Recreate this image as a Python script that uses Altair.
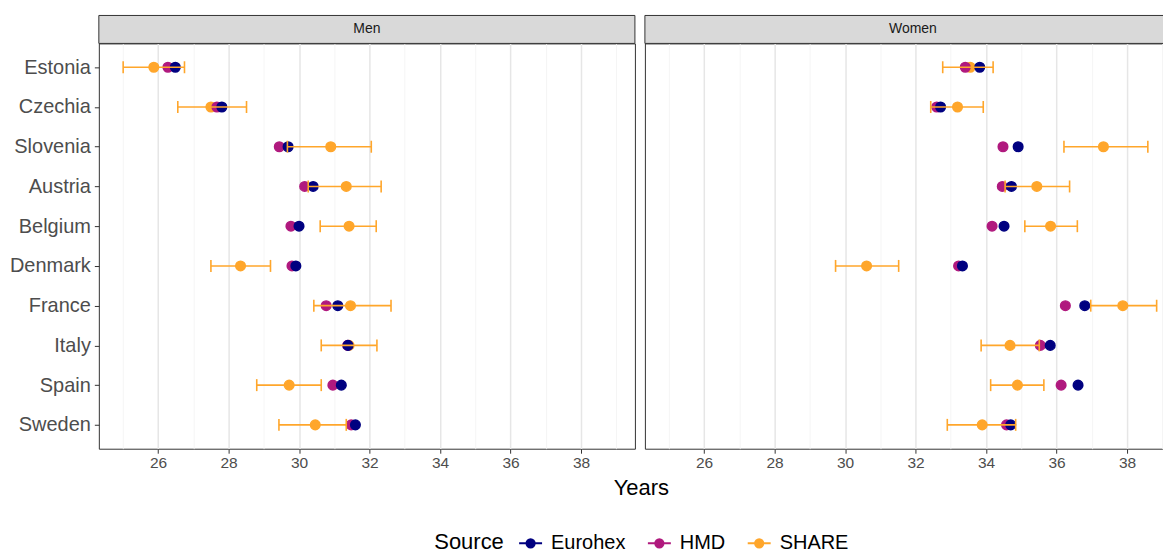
import altair as alt
import pandas as pd

countries = ["Estonia", "Czechia", "Slovenia", "Austria", "Belgium",
             "Denmark", "France", "Italy", "Spain", "Sweden"]
sources = ["Eurohex", "HMD", "SHARE"]
colors = ["#000080", "#B0197E", "#FFA62B"]

# Men
men_eurohex = [26.49, 27.81, 29.69, 30.40, 30.00, 29.91, 31.10, 31.39, 31.20, 31.60]
men_hmd = [26.28, 27.67, 29.44, 30.16, 29.77, 29.80, 30.77, 31.38, 30.96, 31.48]
men_share = [25.88, 27.50, 30.90, 31.34, 31.42, 28.34, 31.46, 31.42, 29.72, 30.46]
men_share_low = [25.01, 26.56, 29.67, 30.26, 30.60, 27.50, 30.42, 30.63, 28.80, 29.43]
men_share_high = [26.75, 28.51, 32.05, 32.33, 32.19, 29.19, 32.61, 32.21, 30.63, 31.34]

# Women
women_eurohex = [33.82, 32.71, 34.91, 34.72, 34.51, 33.33, 36.80, 35.82, 36.61, 34.70]
women_hmd = [33.41, 32.60, 34.48, 34.46, 34.17, 33.22, 36.25, 35.54, 36.13, 34.58]
women_share = [33.55, 33.19, 37.33, 35.44, 35.83, 30.61, 37.88, 34.68, 34.89, 33.89]
women_share_low = [32.77, 32.43, 36.21, 34.54, 35.10, 29.73, 36.97, 33.86, 34.13, 32.90]
women_share_high = [34.20, 33.92, 38.59, 36.37, 36.59, 31.52, 38.84, 35.51, 35.64, 34.84]

x_ticks = list(range(25, 40))

point_rows = []
err_rows = []
for sex, e, h, s, lo, hi in [
    ("Men", men_eurohex, men_hmd, men_share, men_share_low, men_share_high),
    ("Women", women_eurohex, women_hmd, women_share, women_share_low, women_share_high),
]:
    # draw order: SHARE at bottom, then HMD, then Eurohex on top
    for ordv, (src, vals) in enumerate([("SHARE", s), ("HMD", h), ("Eurohex", e)]):
        for c, v in zip(countries, vals):
            point_rows.append({"Sex": sex, "Country": c, "Source": src, "Years": v, "ord": ordv})
    for c, a, b in zip(countries, lo, hi):
        err_rows.append({"Sex": sex, "Country": c, "low": a, "high": b})

pts_df = pd.DataFrame(point_rows)
err_df = pd.DataFrame(err_rows)

W = 537
H = 406
STRIP_H = 28
share_color = colors[2]

legend_path = "M-1,0H1M0.36,0A0.36,0.36,0,1,1,-0.36,0A0.36,0.36,0,1,1,0.36,0Z"

legend = alt.Legend(
    title="Source", orient="none", legendX=336, legendY=488,
    direction="horizontal", columns=3, titleOrient="left",
    symbolType=legend_path, symbolSize=529, symbolStrokeWidth=2,
    labelFontSize=20, titleFontSize=22, titleFontWeight="normal",
    titleColor="black", labelColor="black", columnPadding=18,
    titlePadding=14, labelOffset=8,
)

minor = "datum.value % 2 === 1"


def x_axis(title):
    kw = dict(
        values=x_ticks,
        labelExpr="datum.value % 2 === 0 ? datum.label : ''",
        grid=True,
        gridColor=alt.condition(minor, alt.value("#F3F3F3"), alt.value("#E6E6E6")),
        gridWidth=alt.condition(minor, alt.value(0.8), alt.value(1.5)),
        tickOpacity=alt.condition(minor, alt.value(0), alt.value(1)),
        tickColor="#333333", tickSize=4.5, tickWidth=1,
        labelFontSize=15.5, labelColor="#4D4D4D", labelPadding=2,
        domain=False,
    )
    if title:
        kw.update(title=title, titleX=543, titleFontSize=22, titleFontWeight="normal",
                  titleColor="black", titlePadding=7)
    else:
        kw.update(title=None)
    return alt.Axis(**kw)


def panel(sex, left):
    xs = alt.Scale(domain=[24.32, 39.53], nice=False, zero=False)
    if left:
        yax = alt.Axis(title=None, labelFontSize=20, labelColor="#4D4D4D",
                       tickColor="#333333", tickSize=4.5, labelPadding=4, domain=False,
                       gridColor="#E6E6E6", gridWidth=1.5)
    else:
        yax = alt.Axis(title=None, labels=False, ticks=False, domain=False,
                       gridColor="#E6E6E6", gridWidth=1.5)
    y = alt.Y("Country:N", sort=countries, scale=alt.Scale(type="point", padding=0.6), axis=yax)
    xax = x_axis("Years" if left else None)
    cscale = alt.Scale(domain=sources, range=colors)

    head_df = pd.DataFrame({"Sex": [sex]})
    strip_bg = alt.Chart(head_df).mark_rect(
        fill="#D9D9D9", stroke="#333333", strokeWidth=1
    ).encode(
        x=alt.value(0), x2=alt.value(W), y=alt.value(-STRIP_H), y2=alt.value(0)
    )
    strip_txt = alt.Chart(head_df).mark_text(
        fontSize=14, color="#1A1A1A", baseline="middle", align="center"
    ).encode(
        text="Sex:N", x=alt.value(W / 2), y=alt.value(-STRIP_H / 2)
    )

    pts = alt.Chart(pts_df).transform_filter(alt.datum.Sex == sex).mark_point(
        filled=True, size=92, strokeWidth=1.5, opacity=1
    ).encode(
        x=alt.X("Years:Q", scale=xs, axis=xax),
        y=y,
        fill=alt.Fill("Source:N", scale=cscale, legend=legend),
        stroke=alt.Stroke("Source:N", scale=cscale, legend=legend),
        order=alt.Order("ord:Q"),
    )
    rules = alt.Chart(err_df).transform_filter(alt.datum.Sex == sex).mark_rule(
        color=share_color, strokeWidth=1.6
    ).encode(
        x=alt.X("low:Q", scale=xs, axis=xax),
        x2="high:Q",
        y=y,
    )
    caps = alt.Chart(err_df).transform_filter(alt.datum.Sex == sex).transform_fold(
        ["low", "high"], as_=["end", "v"]
    ).mark_tick(color=share_color, thickness=1.6, size=12, opacity=1).encode(
        x=alt.X("v:Q", scale=xs, axis=xax),
        y=y,
    )
    return alt.layer(strip_bg, strip_txt, pts, rules, caps).properties(
        width=W, height=H,
        view=alt.ViewBackground(fill="white", stroke="#333333", strokeWidth=1),
    )


chart = alt.hconcat(panel("Men", True), panel("Women", False), spacing=10, bounds="flush").properties(
    padding={"left": 0, "top": 6, "right": -19, "bottom": 0},
    background="white",
).configure(font="Liberation Sans")

chart.save("out.html", embed_options={"renderer": "svg", "actions": False})
